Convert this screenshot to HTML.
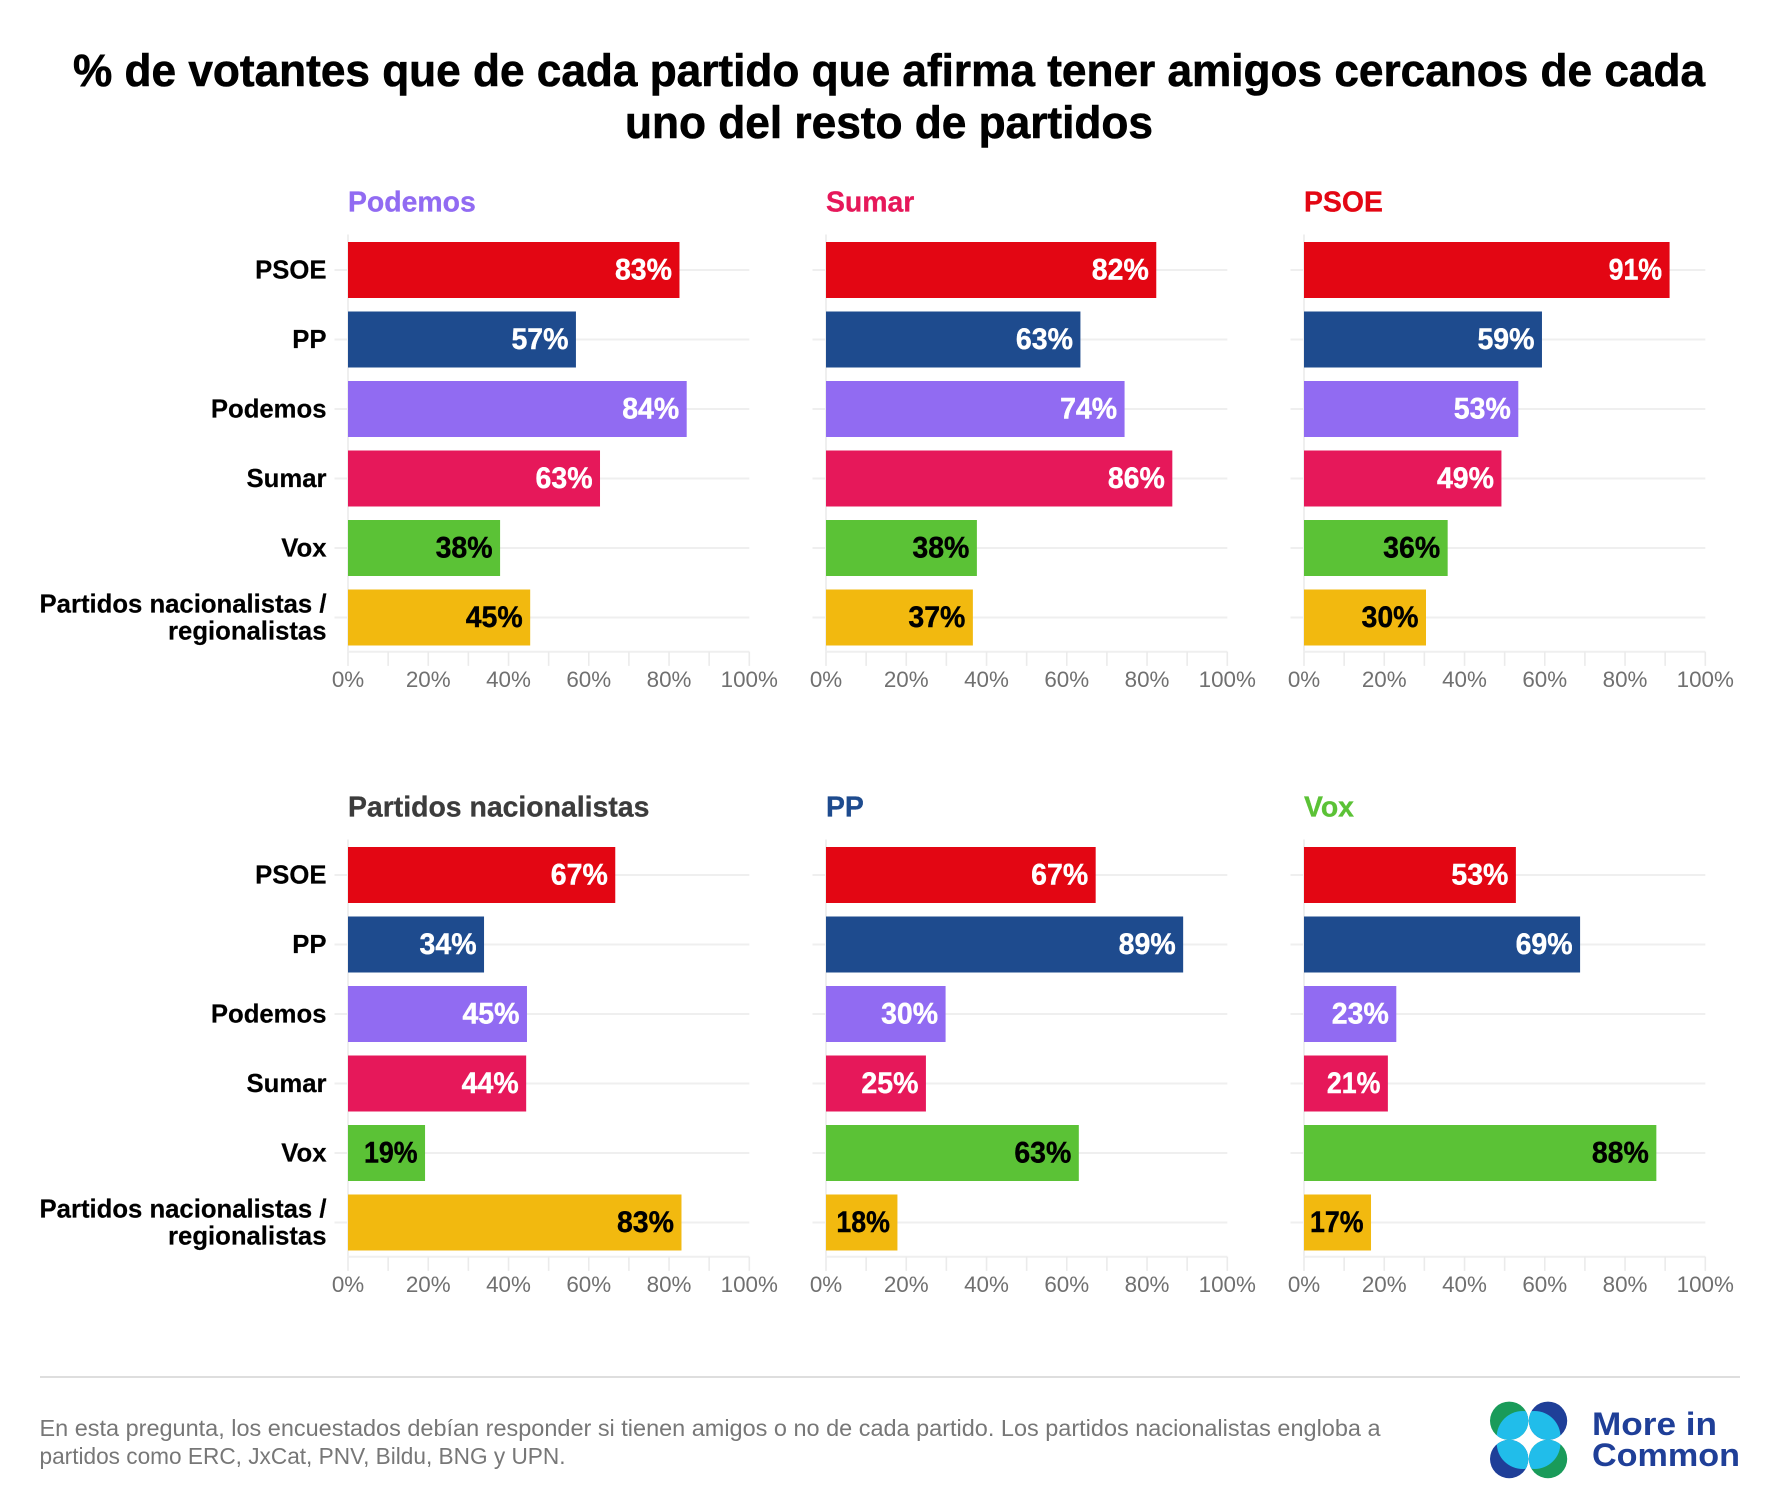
<!DOCTYPE html>
<html lang="es">
<head>
<meta charset="utf-8">
<title>% de votantes con amigos cercanos de cada partido</title>
<style>
html,body{margin:0;padding:0;background:#fff;}
svg{display:block;font-family:"Liberation Sans",sans-serif;}
</style>
</head>
<body>
<svg id="chart" width="1776" height="1510" viewBox="0 0 1776 1510" xmlns="http://www.w3.org/2000/svg">
  <rect x="0" y="0" width="1776" height="1510" fill="#ffffff"/>
  <g font-weight="700" font-size="45" fill="#000" stroke="#000" stroke-width="0.6">
    <text x="73" y="86" textLength="1632" lengthAdjust="spacingAndGlyphs">% de votantes que de cada partido que afirma tener amigos cercanos de cada</text>
    <text x="625" y="138" textLength="528" lengthAdjust="spacingAndGlyphs">uno del resto de partidos</text>
  </g>
  <g id="panels"></g>
  <line x1="40" x2="1740" y1="1377" y2="1377" stroke="#dedede" stroke-width="2"/>
  <g font-size="23" fill="#777777">
    <text x="39.5" y="1436" textLength="1341" lengthAdjust="spacingAndGlyphs">En esta pregunta, los encuestados debían responder si tienen amigos o no de cada partido. Los partidos nacionalistas engloba a</text>
    <text x="39.5" y="1464" textLength="526" lengthAdjust="spacingAndGlyphs">partidos como ERC, JxCat, PNV, Bildu, BNG y UPN.</text>
  </g>
  <g>
    <defs>
      <clipPath id="petal-tl"><circle cx="1509.2" cy="1420.8" r="19.2"/></clipPath>
      <clipPath id="petal-tr"><circle cx="1548" cy="1420.8" r="19.2"/></clipPath>
      <clipPath id="petal-bl"><circle cx="1509.2" cy="1459" r="19.2"/></clipPath>
      <clipPath id="petal-br"><circle cx="1548" cy="1459" r="19.2"/></clipPath>
    </defs>
    <circle cx="1509.2" cy="1420.8" r="19.2" fill="#1a9b5a"/>
    <circle cx="1548" cy="1420.8" r="19.2" fill="#1f3f98"/>
    <circle cx="1509.2" cy="1459" r="19.2" fill="#1f3f98"/>
    <circle cx="1548" cy="1459" r="19.2" fill="#1a9b5a"/>
    <circle clip-path="url(#petal-tl)" cx="1522.7" cy="1437" r="26" fill="#21bdea"/>
    <circle clip-path="url(#petal-tr)" cx="1534.5" cy="1437" r="26" fill="#21bdea"/>
    <circle clip-path="url(#petal-bl)" cx="1522.7" cy="1443" r="26" fill="#21bdea"/>
    <circle clip-path="url(#petal-br)" cx="1534.5" cy="1443" r="26" fill="#21bdea"/>
    <text x="1592" y="1435" font-size="32" font-weight="700" fill="#1f3f98" textLength="125" lengthAdjust="spacingAndGlyphs">More in</text>
    <text x="1592" y="1466" font-size="32" font-weight="700" fill="#1f3f98" textLength="148" lengthAdjust="spacingAndGlyphs">Common</text>
  </g>
</svg>
<script>
// Chart data
const categories = ["PSOE", "PP", "Podemos", "Sumar", "Vox", "Partidos nacionalistas /|regionalistas"];
const panelTitles = ["Podemos", "Sumar", "PSOE", "Partidos nacionalistas", "PP", "Vox"];
const podemosValues = [82.6, 56.8, 84.4, 62.8, 37.9, 45.4];
const sumarValues = [82.3, 63.4, 74.4, 86.3, 37.6, 36.6];
const psoeValues = [91.1, 59.3, 53.4, 49.2, 35.8, 30.4];
const nacionalistasValues = [66.6, 33.9, 44.6, 44.4, 19.2, 83.1];
const ppValues = [67.2, 89.0, 29.8, 24.9, 63.0, 17.8];
const voxValues = [52.8, 68.8, 23.0, 20.9, 87.8, 16.7];
const tickValues = [0, 10, 20, 30, 40, 50, 60, 70, 80, 90, 100];
const tickLabels = ["0%", "", "20%", "", "40%", "", "60%", "", "80%", "", "100%"];

const panelValues = [podemosValues, sumarValues, psoeValues, nacionalistasValues, ppValues, voxValues];
const barColors = ["#e30613", "#1e4b8e", "#916bf2", "#e6185a", "#5bc236", "#f2b90f"];
const labelColors = ["#ffffff", "#ffffff", "#ffffff", "#ffffff", "#000000", "#000000"];
const titleColors = ["#916bf2", "#e6185a", "#e30613", "#3c3c3c", "#1e4b8e", "#5bc236"];

const SVG_NS = "http://www.w3.org/2000/svg";
const AXIS_MAX = 100;
const PLOT_W = 401.3;
const BAR_H = 56;
const ROW_STEP = 69.5;

function xScale(v, left) { return left + (v / AXIS_MAX) * PLOT_W; }
function rowTop(i, top) { return top + i * ROW_STEP; }
function panelLeft(p) { return 348 + (p % 3) * 478; }
function panelTop(p) { return 242 + Math.floor(p / 3) * 605; }

function make(tag, parent) {
  const el = document.createElementNS(SVG_NS, tag);
  parent.appendChild(el);
  return el;
}
function setAll(el, props) {
  Object.keys(props).forEach(function (k) { el.setAttribute(k, props[k]); });
}

const root = document.getElementById("panels");

panelValues.forEach(function (values, p) {
  const left = panelLeft(p);
  const top = panelTop(p);
  const axisY = rowTop(values.length, top) - 7.3;
  const right = xScale(AXIS_MAX, left);

  const g = make("g", root);
  
  

  const title = make("text", g);
  
  
  setAll(title, { x: left, y: top - 30.3, "font-size": 28.4, "font-weight": 700, fill: titleColors[p], stroke: titleColors[p], "stroke-width": 0.3 });
  title.textContent = panelTitles[p];

  const yAxis = make("line", g);
  
  
  setAll(yAxis, { x1: left, x2: left, y1: top - 7.5, y2: axisY, stroke: "#efefef", "stroke-width": 2 });

  const xAxis = make("line", g);
  
  
  setAll(xAxis, { x1: left, x2: right, y1: axisY, y2: axisY, stroke: "#efefef", "stroke-width": 2 });

  tickValues.forEach(function (t, ti) {
    const tx = xScale(t, left);
    const tick = make("line", g);
    
    
    setAll(tick, { x1: tx, x2: tx, y1: axisY, y2: axisY + 14.2, stroke: "#ebebeb", "stroke-width": 1.6 });
    if (tickLabels[ti]) {
      const lab = make("text", g);
      
      
      setAll(lab, { x: tx, y: axisY + 35.5, "text-anchor": "middle", "font-size": 22.4, fill: "#707070" });
      lab.textContent = tickLabels[ti];
    }
  });

  values.forEach(function (v, i) {
    const y = rowTop(i, top);
    const cy = y + BAR_H / 2;

    const grid = make("line", g);
    
    
    setAll(grid, { x1: left - 13.5, x2: right, y1: cy, y2: cy, stroke: "#efefef", "stroke-width": 2 });

    const bar = make("rect", g);
    
    
    setAll(bar, { x: left, y: y, width: xScale(v, left) - left, height: BAR_H, fill: barColors[i] });

    const printed = Math.round(v) + "%";
    const val = make("text", g);
    
    
    setAll(val, { x: xScale(v, left) - 7.5, y: cy + 9.7, "text-anchor": "end", "font-size": 29.5, "font-weight": 700, fill: labelColors[i], stroke: labelColors[i], "stroke-width": 0.4, textLength: printed.indexOf("1") >= 0 ? 53.5 : 57, lengthAdjust: "spacingAndGlyphs" });
    val.textContent = printed;

    if (p % 3 === 0) {
      const lines = categories[i].split("|");
      lines.forEach(function (line, li) {
        const cat = make("text", g);
        
        
        const base = lines.length > 1 ? cy - 5 + li * 27 : cy + 8.3;
        setAll(cat, { x: left - 21.5, y: base, "text-anchor": "end", "font-size": 25.7, "font-weight": 700, fill: "#000", stroke: "#000", "stroke-width": 0.2 });
        cat.textContent = line;
      });
    }
  });
});
</script>
</body>
</html>
